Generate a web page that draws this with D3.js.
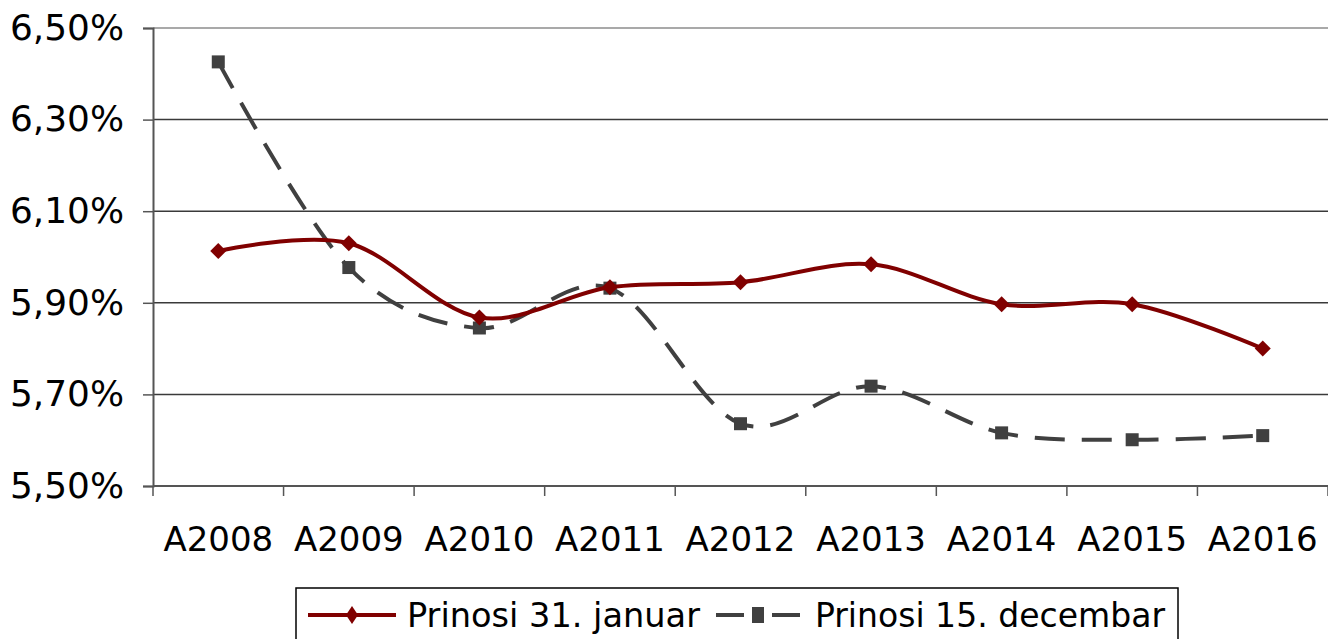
<!DOCTYPE html>
<html>
<head>
<meta charset="utf-8">
<script src="https://cdn.jsdelivr.net/npm/d3@7"></script>
<style>
  body { margin: 0; background: #fff; }
  svg { display: block; }
</style>
</head>
<body>
<div id="chart"></div>
<script>
// chart data
var categories = ["A2008", "A2009", "A2010", "A2011", "A2012", "A2013", "A2014", "A2015", "A2016"];
var januar = [6.013, 6.030, 5.868, 5.934, 5.945, 5.984, 5.897, 5.897, 5.800];
var decembar = [6.426, 5.977, 5.845, 5.932, 5.636, 5.718, 5.616, 5.601, 5.610];
var yTicks = [5.5, 5.7, 5.9, 6.1, 6.3, 6.5];
var seriesNames = ["Prinosi 31. januar", "Prinosi 15. decembar"];

var W = 1328, H = 639;
var plot = { left: 153, right: 1328, top: 28, bottom: 486 };

var svg = d3.select("#chart").append("svg")
  .attr("width", W)
  .attr("height", H);

var x = d3.scaleBand().domain(categories).range([plot.left, plot.right]);
var y = d3.scaleLinear().domain([5.5, 6.5]).range([plot.bottom, plot.top]);

var fmt = function(d) { return d.toFixed(2).replace(".", ",") + "%"; };

// gridlines
svg.append("g")
  .selectAll("line")
  .data(yTicks.filter(function(d) { return d > 5.5; }))
  .enter().append("line")
    .attr("x1", plot.left).attr("x2", plot.right)
    .attr("y1", function(d) { return y(d); })
    .attr("y2", function(d) { return y(d); })
    .attr("stroke", function(d) { return d == 6.5 ? "#8c8c8c" : "#3a3a3a"; })
    .attr("stroke-width", 1.5);

// y axis
var yAxis = d3.axisLeft(y).tickValues(yTicks).tickFormat(fmt).tickSize(10).tickPadding(19);
var gy = svg.append("g")
  .attr("transform", "translate(" + plot.left + ",0)")
  .call(yAxis);
gy.select(".domain").attr("stroke", "#555").attr("stroke-width", 2);
gy.selectAll(".tick line").attr("stroke", "#555").attr("stroke-width", 1.5);
gy.selectAll("text")
  .attr("font-family", "DejaVu Sans, Verdana, sans-serif")
  .attr("font-size", 35)
  .attr("textLength", 114)
  .attr("lengthAdjust", "spacingAndGlyphs")
  .attr("fill", "#000");

// x axis
var xTickPos = d3.range(categories.length + 1).map(function(i) { return plot.left + i * x.bandwidth(); });
var gx = svg.append("g");
gx.append("line")
  .attr("x1", plot.left).attr("x2", plot.right)
  .attr("y1", plot.bottom).attr("y2", plot.bottom)
  .attr("stroke", "#555").attr("stroke-width", 2);
gx.selectAll("line.tk")
  .data(xTickPos)
  .enter().append("line")
    .attr("class", "tk")
    .attr("x1", function(d) { return d; }).attr("x2", function(d) { return d; })
    .attr("y1", plot.bottom).attr("y2", plot.bottom + 10)
    .attr("stroke", "#555").attr("stroke-width", 1.5);
gx.selectAll("text")
  .data(categories)
  .enter().append("text")
    .attr("x", function(d) { return x(d) + x.bandwidth() / 2; })
    .attr("y", 551)
    .attr("text-anchor", "middle")
    .attr("font-family", "DejaVu Sans, Verdana, sans-serif")
    .attr("font-size", 34)
    .attr("fill", "#000")
    .text(function(d) { return d; });

var line = d3.line()
  .x(function(d, i) { return x(categories[i]) + x.bandwidth() / 2; })
  .y(function(d) { return y(d); })
  .curve(d3.curveCatmullRom.alpha(0));

var RED = "#800000", GRAY = "#404040";

// decembar series (dashed, squares)
svg.append("path")
  .datum(decembar)
  .attr("d", line)
  .attr("fill", "none")
  .attr("stroke", GRAY)
  .attr("stroke-width", 4)
  .attr("stroke-dasharray", "30,17");
svg.append("g").selectAll("rect")
  .data(decembar)
  .enter().append("rect")
    .attr("x", function(d, i) { return x(categories[i]) + x.bandwidth() / 2 - 6.5; })
    .attr("y", function(d) { return y(d) - 6.5; })
    .attr("width", 13).attr("height", 13)
    .attr("fill", GRAY);

// januar series (solid, diamonds)
svg.append("path")
  .datum(januar)
  .attr("d", line)
  .attr("fill", "none")
  .attr("stroke", RED)
  .attr("stroke-width", 4);
var diamond = "M0,-8L8,0L0,8L-8,0Z";
svg.append("g").selectAll("path")
  .data(januar)
  .enter().append("path")
    .attr("d", diamond)
    .attr("transform", function(d, i) { return "translate(" + (x(categories[i]) + x.bandwidth() / 2) + "," + y(d) + ")"; })
    .attr("fill", RED);

// legend
var lg = svg.append("g");
lg.append("rect")
  .attr("x", 296).attr("y", 588)
  .attr("width", 882).attr("height", 70)
  .attr("fill", "#fff")
  .attr("stroke", "#000").attr("stroke-width", 1.5);

var legendItems = [
  { name: seriesNames[0], color: RED, x0: 308, x1: 396, tx: 407, tw: 293, marker: "diamond" },
  { name: seriesNames[1], color: GRAY, x0: 716, x1: 800, tx: 815, tw: 350, marker: "square" }
];
legendItems.forEach(function(it) {
  var ly = 615;
  if (it.marker == "diamond") {
    lg.append("line").attr("x1", it.x0).attr("x2", it.x1).attr("y1", ly).attr("y2", ly)
      .attr("stroke", it.color).attr("stroke-width", 4);
    lg.append("path").attr("d", "M0,-9L6,0L0,9L-6,0Z")
      .attr("transform", "translate(" + (it.x0 + it.x1) / 2 + "," + ly + ")")
      .attr("fill", it.color);
  } else {
    lg.append("line").attr("x1", it.x0).attr("x2", it.x0 + 28).attr("y1", ly).attr("y2", ly)
      .attr("stroke", it.color).attr("stroke-width", 4);
    lg.append("line").attr("x1", it.x1 - 28).attr("x2", it.x1).attr("y1", ly).attr("y2", ly)
      .attr("stroke", it.color).attr("stroke-width", 4);
    lg.append("rect")
      .attr("x", (it.x0 + it.x1) / 2 - 6).attr("y", ly - 8)
      .attr("width", 12).attr("height", 16)
      .attr("fill", it.color);
  }
  lg.append("text")
    .attr("x", it.tx).attr("y", ly + 12)
    .attr("font-family", "DejaVu Sans Condensed, DejaVu Sans, sans-serif")
    .attr("font-size", 34)
    .attr("textLength", it.tw)
    .attr("lengthAdjust", "spacingAndGlyphs")
    .attr("fill", "#000")
    .text(it.name);
});
</script>
</body>
</html>
